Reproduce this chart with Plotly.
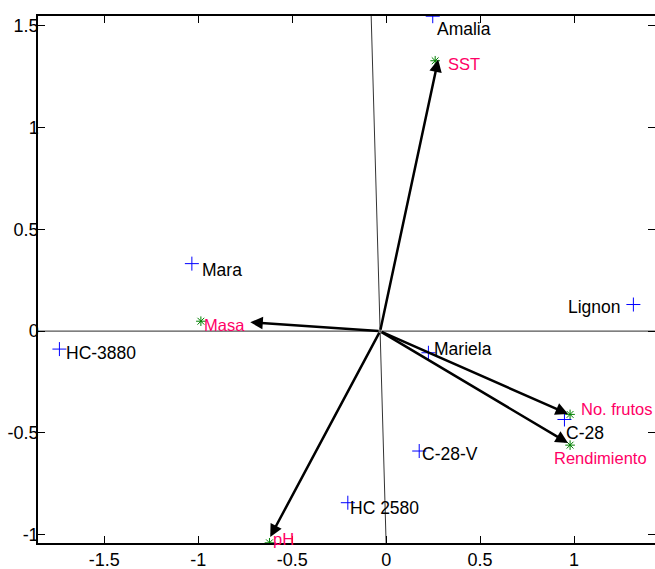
import plotly.graph_objects as go

# Cultivars (blue +)
cultivars = ["Amalia", "Mara", "HC-3880", "Lignon", "Mariela", "C-28", "C-28-V", "HC 2580"]
cult_x = [0.248, -1.034, -1.739, 1.316, 0.225, 0.949, 0.176, -0.204]
cult_y = [1.548, 0.332, -0.088, 0.131, -0.106, -0.434, -0.589, -0.843]

# Variables (green *)
variables = ["SST", "Masa", "No. frutos", "Rendimiento", "pH"]
var_x = [0.261, -0.986, 0.979, 0.979, -0.621]
var_y = [1.329, 0.049, -0.409, -0.560, -1.040]

# Arrow tips (vectors drawn from origin)
arrow_x = [0.277, -0.723, 0.968, 0.968, -0.617]
arrow_y = [1.335, 0.044, -0.407, -0.550, -1.011]
origin_x, origin_y = -0.032, 0.0

# Rotated reference line end points
ref_line_x = [-0.080, 0.0]
ref_line_y = [1.561, -1.046]

# Axis ranges and ticks
x_range = [-1.853, 1.431]
y_range = [-1.041, 1.549]
x_ticks = [-1.5, -1, -0.5, 0, 0.5, 1]
x_tick_text = ["-1.5", "-1", "-0.5", "0", "0.5", "1"]
y_ticks = [-1, -0.5, 0, 0.5, 1, 1.5]
y_tick_text = ["-1", "-0.5", "0", "0.5", "1", "1.5"]

# label offsets in pixels (dx, dy-down, anchor)
cult_offsets = [(2, 13, "left"), (8, 6, "left"), (5, 4, "left"), (-10, 2, "right"),
                (4, -4, "left"), (0, 14, "left"), (1, 3, "left"), (0, 5, "left")]
var_offsets = [(11, 3, "left"), (1, 4, "left"), (9, -5, "left"), (-18, 13, "left"), (2, -4, "left")]

FONT = "Liberation Sans, Arial, sans-serif"
PINK = "#ff0066"

fig = go.Figure()

# horizontal zero line
fig.add_trace(go.Scatter(x=x_range, y=[0, 0], mode="lines",
                         line=dict(color="#555555", width=1.3), hoverinfo="skip", showlegend=False))
# rotated vertical line
fig.add_trace(go.Scatter(x=ref_line_x, y=ref_line_y, mode="lines",
                         line=dict(color="#333333", width=1), hoverinfo="skip", showlegend=False))

fig.add_trace(go.Scatter(x=cult_x, y=cult_y, mode="markers",
                         marker=dict(symbol="cross-thin", size=10, color="#0000ff",
                                     line=dict(color="#0000ff", width=1)),
                         showlegend=False))
fig.add_trace(go.Scatter(x=var_x, y=var_y, mode="markers",
                         marker=dict(symbol="asterisk-open", size=8, color="#008000",
                                     line=dict(color="#008000", width=1)),
                         showlegend=False))

for xt, yt in zip(arrow_x, arrow_y):
    fig.add_annotation(x=xt, y=yt, ax=origin_x, ay=origin_y, xref="x", yref="y",
                       axref="x", ayref="y", text="", showarrow=True,
                       arrowhead=2, arrowsize=1.0, arrowwidth=2.5, arrowcolor="black", standoff=0)

for name, x, y, (dx, dy, anc) in zip(cultivars, cult_x, cult_y, cult_offsets):
    fig.add_annotation(x=x, y=y, text=name, showarrow=False, xanchor=anc, yanchor="middle",
                       xshift=dx, yshift=-dy, font=dict(family=FONT, size=17.5, color="black"))

for name, x, y, (dx, dy, anc) in zip(variables, var_x, var_y, var_offsets):
    fig.add_annotation(x=x, y=y, text=name, showarrow=False, xanchor=anc, yanchor="middle",
                       xshift=dx, yshift=-dy, font=dict(family=FONT, size=16.5, color=PINK))

fig.update_layout(
    width=655, height=569,
    margin=dict(l=38, r=0, t=16, b=26, autoexpand=False),
    paper_bgcolor="white", plot_bgcolor="white",
    font=dict(family=FONT, size=18, color="black"),
    xaxis=dict(range=x_range, tickvals=x_ticks, ticktext=x_tick_text, ticks="inside", ticklen=7,
               tickcolor="black", tickwidth=1, showline=True, linecolor="black", linewidth=1.5,
               mirror="ticks", showgrid=False, zeroline=False, automargin=False),
    yaxis=dict(range=y_range, tickvals=y_ticks, ticktext=y_tick_text, ticks="inside", ticklen=7,
               tickcolor="black", tickwidth=1, showline=True, linecolor="black", linewidth=1.5,
               mirror=False, showgrid=False, zeroline=False, automargin=False,
               ticklabelstandoff=-6),
    yaxis2=dict(range=y_range, tickvals=y_ticks, ticks="inside", ticklen=7, tickcolor="black",
                showticklabels=False, showline=False, overlaying="y", side="right",
                showgrid=False, zeroline=False),
)
# dummy trace to activate yaxis2
fig.add_trace(go.Scatter(x=[None], y=[None], yaxis="y2", showlegend=False))

fig.write_html("out.html", config={"displayModeBar": False},
               post_script="document.body.style.margin='0';document.body.style.overflow='hidden';")
